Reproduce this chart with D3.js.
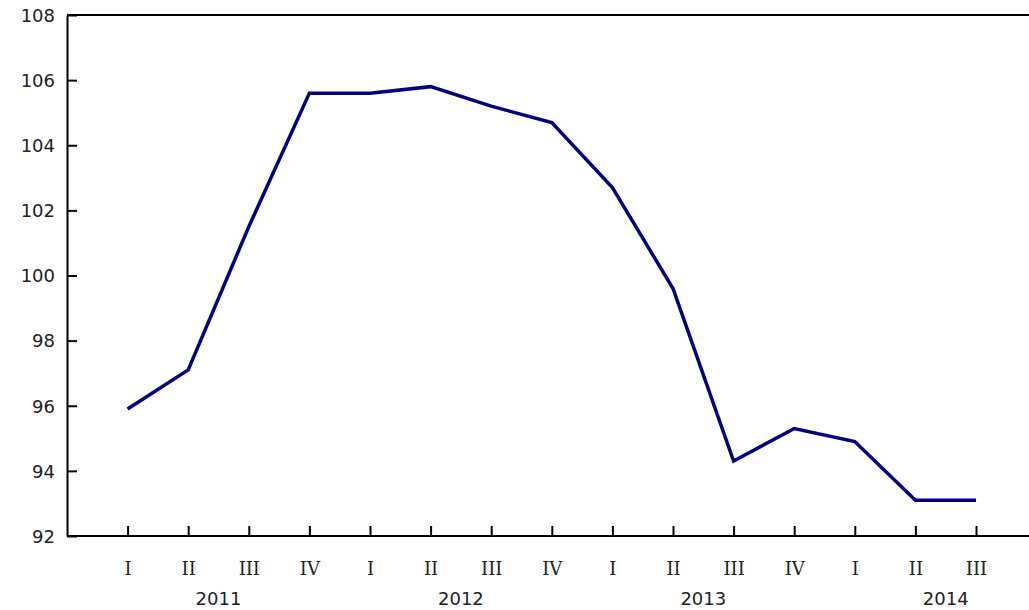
<!DOCTYPE html>
<html>
<head>
<meta charset="utf-8">
<script src="https://cdn.jsdelivr.net/npm/d3@7"></script>
<style>
  body { margin: 0; background: #fff; }
  text { font-family: Verdana, "DejaVu Sans", sans-serif; font-size: 18px; fill: #222; }
  .domain, .tick line { stroke: #000; stroke-width: 2; }
</style>
</head>
<body>
<div id="chart"></div>
<script>
// quarterly index, 2011 Q1 to 2014 Q3
var quarters = ["I", "II", "III", "IV", "I", "II", "III", "IV", "I", "II", "III", "IV", "I", "II", "III"];
var years = ["2011", "2012", "2013", "2014"];
var values = [95.9, 97.1, 101.5, 105.6, 105.6, 105.8, 105.2, 104.7, 102.7, 99.6, 94.3, 95.3, 94.9, 93.1, 93.1];
var yTicks = [92, 94, 96, 98, 100, 102, 104, 106, 108];

var width = 1029, height = 610;
var mLeft = 67, mRight = 1029, mTop = 15, mBottom = 536;

var svg = d3.select("#chart").append("svg")
  .attr("width", width).attr("height", height);

var idx = d3.range(values.length);
var x = d3.scaleLinear().domain([-1, 14]).range([mLeft, 976]);
var y = d3.scaleLinear().domain([92, 108]).range([mBottom, mTop]);

// top border
svg.append("line")
  .attr("x1", mLeft).attr("x2", mRight)
  .attr("y1", mTop).attr("y2", mTop)
  .attr("stroke", "#000").attr("stroke-width", 2);

// y axis, ticks pointing inward
var yAxis = svg.append("g")
  .attr("transform", "translate(" + mLeft + ",0)")
  .call(d3.axisRight(y).tickValues(yTicks).tickSize(10).tickSizeOuter(0));
yAxis.selectAll("text").attr("x", -12).attr("text-anchor", "end").attr("dy", "0.35em");

// x axis
var xAxis = svg.append("g")
  .attr("transform", "translate(0," + mBottom + ")")
  .call(d3.axisTop(x).tickValues(idx).tickSize(10).tickSizeOuter(0).tickFormat(function(i){ return quarters[i]; }));
xAxis.select(".domain").attr("d", "M" + mLeft + ",0H" + mRight);
xAxis.selectAll("text").attr("y", 39).attr("dy", 0).style("font-family", "'DejaVu Serif', serif");

// year labels centred under each group of four quarters
svg.append("g").selectAll("text")
  .data(years)
  .enter().append("text")
  .attr("x", function(d, i){ return (x(i * 4) + x(i * 4 + 3)) / 2; })
  .attr("y", 605)
  .attr("text-anchor", "middle")
  .text(function(d){ return d; });

var line = d3.line()
  .x(function(d, i){ return x(i); })
  .y(function(d){ return y(d); });

svg.append("path")
  .datum(values)
  .attr("d", line)
  .attr("fill", "none")
  .attr("stroke", "#000080")
  .attr("stroke-width", 3.5);
</script>
</body>
</html>
